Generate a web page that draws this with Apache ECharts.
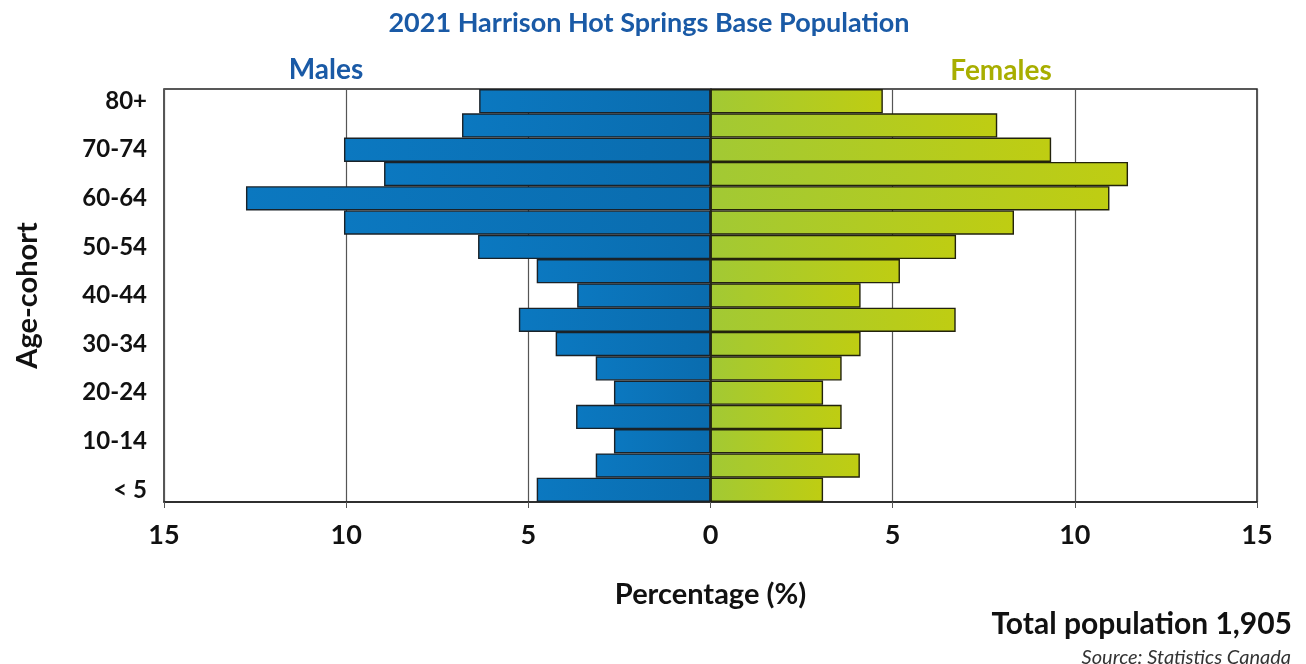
<!DOCTYPE html>
<html>
<head>
<meta charset="utf-8">
<script src="https://cdn.jsdelivr.net/npm/echarts@6/dist/echarts.min.js"></script>
<style>
html,body{margin:0;padding:0;background:#fff;}
#chart{width:1306px;height:664px;}
</style>
</head>
<body>
<div id="chart"></div>
<script>
const categories = ['< 5','5-9','10-14','15-19','20-24','25-29','30-34','35-39','40-44','45-49','50-54','55-59','60-64','65-69','70-74','75-79','80+'];
const males = [4.77, 3.15, 2.65, 3.69, 2.65, 3.15, 4.25, 5.26, 3.66, 4.77, 6.38, 10.06, 12.75, 8.96, 10.06, 6.82, 6.35];
const females = [3.09, 4.1, 3.09, 3.6, 3.09, 3.6, 4.12, 6.73, 4.12, 5.2, 6.74, 8.33, 10.95, 11.46, 9.35, 7.87, 4.73];
const xTicks = [-15, -10, -5, 0, 5, 10, 15];

const FONT = 'Lato';
const chart = echarts.init(document.getElementById('chart'));
chart.setOption({
  backgroundColor: '#fff',
  animation: false,
  title: [
    {text: '2021 Harrison Hot Springs Base Population', left: 644, top: 5, textAlign: 'center',
     textStyle: {fontFamily: FONT, fontWeight: 'bold', fontSize: 27, color: '#1a5aa6'}},
    {text: 'Males', left: 321, top: 51, textAlign: 'center',
     textStyle: {fontFamily: FONT, fontWeight: 'bold', fontSize: 28, color: '#1a5aa6'}},
    {text: 'Females', left: 996, top: 52, textAlign: 'center',
     textStyle: {fontFamily: FONT, fontWeight: 'bold', fontSize: 28, color: '#a8ae00'}},
    {text: 'Total population 1,905', right: 9, top: 604,
     textStyle: {fontFamily: FONT, fontWeight: 'bold', fontSize: 30, color: '#111'}},
    {text: 'Source: Statistics Canada', right: 10, top: 643,
     textStyle: {fontFamily: FONT, fontStyle: 'italic', fontWeight: 'normal', fontSize: 20, color: '#333'}}
  ],
  grid: {left: 164, right: 49, top: 89, bottom: 162, show: true, borderColor: '#222', borderWidth: 1.5, containLabel: false},
  xAxis: {
    type: 'value', min: -15, max: 15, interval: 5,
    name: 'Percentage (%)', nameLocation: 'middle', nameGap: 78,
    nameTextStyle: {fontFamily: FONT, fontWeight: 'bold', fontSize: 29, color: '#111'},
    axisLine: {show: true, lineStyle: {color: '#222', width: 1.5}},
    axisTick: {show: true, length: 6, lineStyle: {color: '#555'}},
    axisLabel: {fontFamily: FONT, fontWeight: 'bold', fontSize: 27, color: '#111', margin: 20,
      formatter: v => String(Math.abs(v))},
    splitLine: {show: true, lineStyle: {color: '#555', width: 1.2}}
  },
  yAxis: {
    type: 'category', data: categories,
    name: 'Age-cohort', nameLocation: 'middle', nameGap: 122, nameRotate: 90,
    nameTextStyle: {fontFamily: FONT, fontWeight: 'bold', fontSize: 29, color: '#111'},
    axisLine: {show: true, lineStyle: {color: '#222', width: 1.5}},
    axisTick: {show: false},
    axisLabel: {interval: 1, fontFamily: FONT, fontWeight: 'bold', fontSize: 24, color: '#111', margin: 17},
    splitLine: {show: false}
  },
  series: [
    {
      name: 'Males', type: 'bar', stack: 'pop', barCategoryGap: 0,
      data: males.map(v => -v),
      itemStyle: {
        color: new echarts.graphic.LinearGradient(0, 0, 1, 0, [
          {offset: 0, color: '#0b78c0'}, {offset: 1, color: '#0a6cae'}
        ]),
        borderColor: '#1a2228', borderWidth: 1.4
      }
    },
    {
      name: 'Females', type: 'bar', stack: 'pop', barCategoryGap: 0,
      data: females,
      itemStyle: {
        color: new echarts.graphic.LinearGradient(0, 0, 1, 0, [
          {offset: 0, color: '#a2c934'}, {offset: 1, color: '#bfcd12'}
        ]),
        borderColor: '#22220c', borderWidth: 1.4
      }
    }
  ]
});
</script>
</body>
</html>
